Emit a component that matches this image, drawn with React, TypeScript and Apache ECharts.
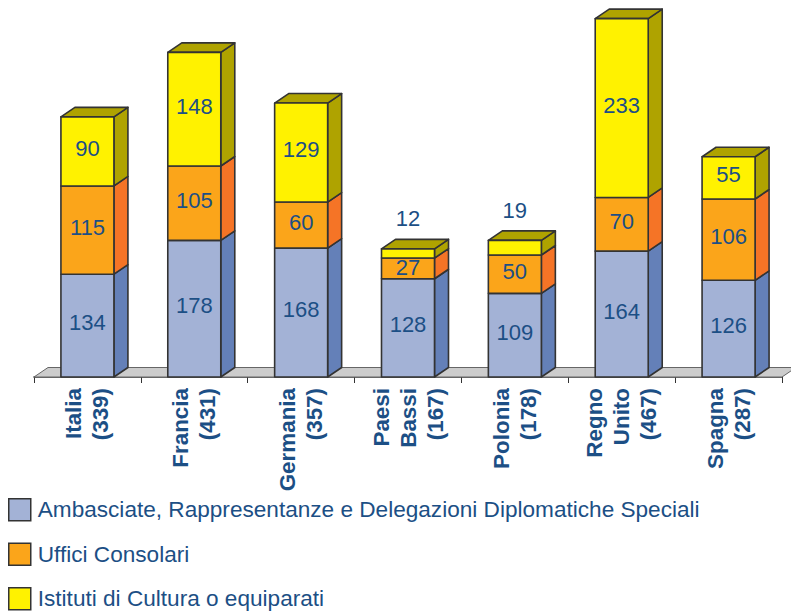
import React, { useEffect, useRef } from "react";
import * as echarts from "echarts";

const categories = ["Italia\n(339)", "Francia\n(431)", "Germania\n(357)", "Paesi\nBassi\n(167)", "Polonia\n(178)", "Regno\nUnito\n(467)", "Spagna\n(287)"];
const ambasciate = [134, 178, 168, 128, 109, 164, 126];
const uffici = [115, 105, 60, 27, 50, 70, 106];
// Height the reference really draws for the Uffici segments (Francia is printed 105, drawn about 97).
const ufficiDrawn = [115, 97, 60, 27, 50, 70, 106];
const istituti = [90, 148, 129, 12, 19, 233, 55];
const seriesNames = [
  "Ambasciate, Rappresentanze e Delegazioni Diplomatiche Speciali",
  "Uffici Consolari",
  "Istituti di Cultura o equiparati",
];

const TEXT = "#1C4F85";
const STROKE = "#333333";
const FONT = "'Liberation Sans', Arial, sans-serif";
const DX = 14;
const DY = 9.5;
const BAR_RATIO = 0.5;
const SMALL = 20;

function stacked(drawn: number[], below: number[], labels: number[]) {
  return drawn.map((v, i) => [i, below[i], below[i] + v, labels[i]]);
}

function barRenderer(front: string, side: string, top: boolean) {
  return (_params: any, api: any) => {
    const catW = api.size([1, 0])[0];
    const w = Math.round(catW * BAR_RATIO);
    const [cx, y0] = api.coord([api.value(0), api.value(1)]);
    const [, y1] = api.coord([api.value(0), api.value(2)]);
    const x0 = cx - w / 2;
    const x1 = x0 + w;
    const lineStyle = { stroke: STROKE, lineWidth: 1.6, lineJoin: "round" };
    const v = api.value(3);
    const children: any[] = [
      { type: "polygon", shape: { points: [[x1, y0], [x1 + DX, y0 - DY], [x1 + DX, y1 - DY], [x1, y1]] }, style: { fill: side, ...lineStyle } },
    ];
    if (top) {
      children.push({ type: "polygon", shape: { points: [[x0, y1], [x0 + DX, y1 - DY], [x1 + DX, y1 - DY], [x1, y1]] }, style: { fill: side, ...lineStyle } });
    }
    children.push({ type: "rect", shape: { x: x0, y: y1, width: w, height: y0 - y1 }, style: { fill: front, ...lineStyle } });
    const labelY = v < SMALL ? y1 - 30 : (y0 + y1) / 2 - (v < 30 ? 1 : 3);
    children.push({
      type: "text",
      x: cx,
      y: labelY,
      style: { text: String(v), fill: TEXT, font: `22px ${FONT}`, align: "center", verticalAlign: "middle" },
    });
    return { type: "group", children };
  };
}

function floorRenderer(params: any) {
  const { x, y, width, height } = params.coordSys;
  const b = y + height;
  return {
    type: "polygon",
    shape: { points: [[x, b], [x + DX, b - DY], [x + width + DX, b - DY], [x + width, b]] },
    style: { fill: "#CCCCCC", stroke: "#666666", lineWidth: 1 },
  };
}

export default function App() {
  const ref = useRef<HTMLDivElement>(null);
  useEffect(() => {
    document.body.style.margin = "0";
    const chart = echarts.init(ref.current!, undefined, { renderer: "svg" });
    const below2 = ambasciate.map((v, i) => v + ufficiDrawn[i]);
    chart.setOption({
      animation: false,
      backgroundColor: "#ffffff",
      grid: { left: 34, top: 1, width: 748, height: 376 },
      legend: {
        orient: "vertical",
        left: 8,
        top: 498,
        height: 140,
        padding: 0,
        itemWidth: 22,
        itemHeight: 22,
        itemGap: 21,
        icon: "rect",
        selectedMode: false,
        data: seriesNames,
        itemStyle: { borderColor: STROKE, borderWidth: 1.5 },
        textStyle: { color: TEXT, fontSize: 22.6, fontFamily: FONT, padding: [0, 0, 0, 2] },
      },
      xAxis: {
        type: "category",
        data: categories,
        axisLine: { show: true, lineStyle: { color: STROKE, width: 1.6 } },
        axisTick: { show: true, length: 6, lineStyle: { color: STROKE, width: 1 } },
        axisLabel: {
          interval: 0,
          rotate: 90,
          margin: 11,
          color: TEXT,
          fontSize: 22.4,
          fontWeight: "bold",
          fontFamily: FONT,
          lineHeight: 27,
          align: "right",
        },
      },
      yAxis: { type: "value", min: 0, max: 490, show: false, splitLine: { show: false } },
      series: [
        { type: "custom", name: "floor", clip: false, z: 1, data: [[0, 0]], encode: { x: 0, y: 1 }, renderItem: floorRenderer },
        { type: "custom", name: seriesNames[0], clip: false, z: 2, itemStyle: { color: "#A3B2D6" }, data: stacked(ambasciate, ambasciate.map(() => 0), ambasciate), encode: { x: 0, y: [1, 2] }, renderItem: barRenderer("#A3B2D6", "#6480B8", false) },
        { type: "custom", name: seriesNames[1], clip: false, z: 3, itemStyle: { color: "#FBA51A" }, data: stacked(ufficiDrawn, ambasciate, uffici), encode: { x: 0, y: [1, 2] }, renderItem: barRenderer("#FBA51A", "#F57426", false) },
        { type: "custom", name: seriesNames[2], clip: false, z: 4, itemStyle: { color: "#FFF200" }, data: stacked(istituti, below2, istituti), encode: { x: 0, y: [1, 2] }, renderItem: barRenderer("#FFF200", "#AFA300", true) },
      ],
    });
    return () => chart.dispose();
  }, []);
  return <div ref={ref} style={{ width: 791, height: 611 }} />;
}
